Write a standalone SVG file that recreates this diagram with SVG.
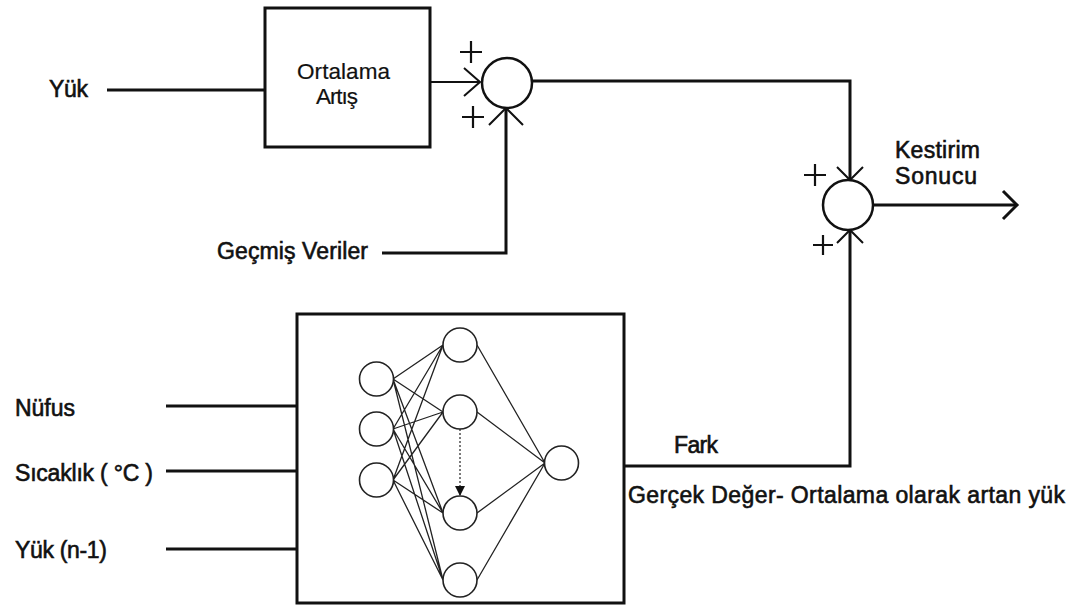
<svg xmlns="http://www.w3.org/2000/svg" width="1074" height="605" viewBox="0 0 1074 605">
<style>
.bg{fill:#ffffff}
.lbl{font-family:"Liberation Sans",Arial,sans-serif;font-size:23px;fill:#111;stroke:#111;stroke-width:0.6}
.reg{font-family:"Liberation Sans",Arial,sans-serif;font-size:22.5px;fill:#111;stroke:#111;stroke-width:0.2}
.box{fill:none;stroke:#111;stroke-width:3}
.sum{fill:#fff;stroke:#111;stroke-width:2.5}
.wire{fill:none;stroke:#111;stroke-width:3}
.thin{fill:none;stroke:#111;stroke-width:2}
.plus{fill:none;stroke:#111;stroke-width:2.2}
.neuron{fill:#fff;stroke:#222;stroke-width:1.6}
.syn{fill:none;stroke:#222;stroke-width:1.3}
</style>
<defs>
<marker id="tri" viewBox="0 0 10 10" refX="10" refY="5" markerWidth="10" markerHeight="10" markerUnits="userSpaceOnUse" orient="auto">
<path d="M0,0 L10,5 L0,10 z" fill="#111"/>
</marker>
</defs>
<rect class="bg" x="0" y="0" width="1074" height="605"/>

<g id="connectors">
<line class="wire" x1="107" y1="90" x2="265" y2="90" stroke-width="2.5"/>
<line class="thin" x1="430" y1="82" x2="480" y2="82"/>
<polyline class="thin" points="464,68 480,82 464,96"/>
<polyline class="wire" points="382,253 506,253 506,108"/>
<polyline class="thin" points="489,125 506,108 523,125"/>
<polyline class="wire" points="532,81 850,81 850,180"/>
<polyline class="thin" points="837,167 850,180 863,167"/>
<polyline class="wire" points="624,466 850,466 850,230"/>
<polyline class="thin" points="837,243 850,230 863,243"/>
<line class="wire" x1="873" y1="205" x2="1017" y2="205"/>
<polyline class="wire" points="1003,191 1017,205 1003,219"/>
<line class="wire" x1="166" y1="406" x2="297" y2="406" stroke-width="2.5"/>
<line class="wire" x1="166" y1="471" x2="297" y2="471" stroke-width="2.5"/>
<line class="wire" x1="166" y1="549" x2="297" y2="549" stroke-width="2.5"/>
</g>

<g id="yuk-label"><text class="lbl" x="49" y="97" textLength="39">Yük</text></g>
<g id="gecmis-label"><text class="lbl" x="217" y="259" textLength="151">Geçmiş Veriler</text></g>

<g id="ortalama-artis">
<rect class="box" x="265" y="8" width="165" height="139"/>
<text class="reg" x="297" y="79" textLength="93">Ortalama</text>
<text class="reg" x="316" y="104" textLength="42">Artış</text>
</g>

<g id="sum1">
<circle class="sum" cx="507" cy="83" r="25"/>
<path class="plus" d="M460,52 H482 M471,41 V63"/>
<path class="plus" d="M462,117 H484 M473,106 V128"/>
</g>

<g id="sum2">
<circle class="sum" cx="848" cy="205" r="25"/>
<path class="plus" d="M804,175 H826 M815,164 V186"/>
<path class="plus" d="M813,245 H833 M823,235 V255" stroke-width="1.8"/>
</g>

<g id="kestirim-label">
<text class="lbl" x="895" y="158" textLength="85">Kestirim</text>
<text class="lbl" x="895" y="184" textLength="82">Sonucu</text>
</g>

<g id="neural-network">
<rect class="box" x="297" y="314" width="327" height="289"/>
<g id="synapses">
<path class="syn" d="M393,379 L443,345 M393,379 L443,412 M393,379 L443,513 M393,379 L443,580
M393,429 L443,345 M393,429 L443,412 M393,429 L443,513 M393,429 L443,580
M393,480 L443,345 M393,480 L443,412 M393,480 L443,513 M393,480 L443,580
M477,345 L545,463 M477,412 L545,463 M477,513 L545,463 M477,580 L545,463"/>
<line x1="460" y1="429" x2="460" y2="496" stroke="#222" stroke-width="1.2" stroke-dasharray="2,2" marker-end="url(#tri)"/>
</g>
<circle class="neuron" cx="376.5" cy="379" r="17"/>
<circle class="neuron" cx="376.5" cy="429" r="17"/>
<circle class="neuron" cx="376.5" cy="480" r="17"/>
<circle class="neuron" cx="460" cy="345" r="17"/>
<circle class="neuron" cx="460" cy="412" r="17"/>
<circle class="neuron" cx="460" cy="513" r="17"/>
<circle class="neuron" cx="460" cy="580" r="17"/>
<circle class="neuron" cx="561.5" cy="463" r="17"/>
</g>

<g id="input-labels">
<text class="lbl" x="15" y="416" textLength="60">Nüfus</text>
<text class="lbl" x="15" y="481" textLength="138">Sıcaklık ( °C )</text>
<text class="lbl" x="15" y="558" textLength="92">Yük (n-1)</text>
</g>

<g id="fark-label">
<text class="lbl" x="674" y="453" textLength="44">Fark</text>
<text class="lbl" x="628" y="503" textLength="437">Gerçek Değer-  Ortalama olarak artan yük</text>
</g>
</svg>
